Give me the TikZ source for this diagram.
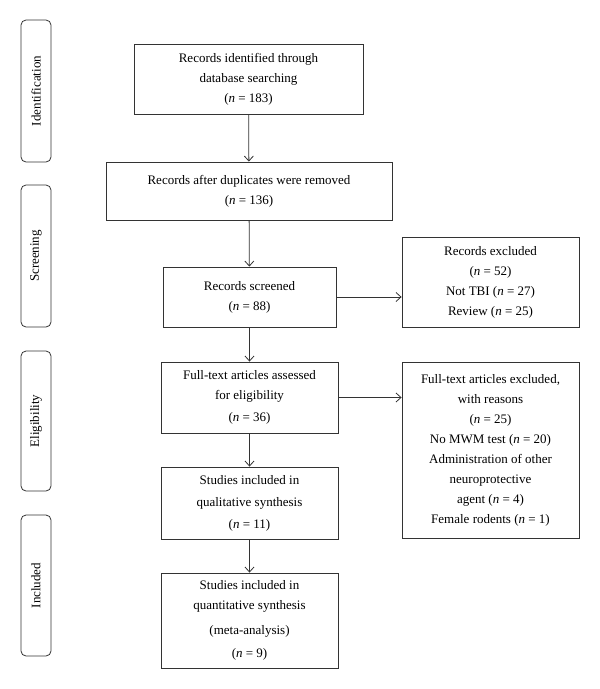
\documentclass[tikz,border=0pt]{standalone}
\usepackage{fontspec}
\setmainfont{Liberation Serif}
\usetikzlibrary{arrows.meta}
\tikzset{font=\fontsize{13}{20}\selectfont}
\tikzset{box/.style={draw=black!80, line width=0.8pt, align=center, inner sep=2pt}}
\tikzset{stage/.style={draw=black!80, line width=0.8pt, rounded corners=5pt, rotate=90, minimum height=30pt}}
\tikzset{flow/.style={draw=black!80, line width=0.8pt, -{Straight Barb[length=5pt,width=9pt]}}}
\newcommand{\nn}[1]{(\textit{n} = #1)}

\begin{document}
\begin{tikzpicture}[x=1pt,y=-1pt]
  \useasboundingbox (0,0) rectangle (600,689);

  % stages on the left
  \node[stage, minimum width=142pt] (ident) at (36,91) {Identification};
  \node[stage, minimum width=142pt] (screen) at (36,256) {Screening};
  \node[stage, minimum width=140pt] (elig) at (36,421) {Eligibility};
  \node[stage, minimum width=141pt] (incl) at (36,585.5) {Included};

  % main column
  \node[box, minimum width=229pt, minimum height=70pt] (found) at (248.5,79)
    {Records identified through\\database searching\\\nn{183}};
  \node[box, minimum width=286pt, minimum height=58pt] (nodup) at (249,191)
    {Records after duplicates were removed\\\nn{136}};
  \node[box, minimum width=173pt, minimum height=60pt] (scrn) at (249.5,297)
    {Records screened\\\nn{88}};
  \node[box, minimum width=177pt, minimum height=71pt] (full) at (249.5,397.5)
    {Full-text articles assessed\\for eligibility\\[2pt]\nn{36}};
  \node[box, minimum width=177pt, minimum height=72pt] (qual) at (249.5,503)
    {Studies included in\\[2pt]qualitative synthesis\\[2pt]\nn{11}};
  \node[box, minimum width=177pt, minimum height=95pt] (quant) at (249.5,620.5)
    {Studies included in\\quantitative synthesis\\[5pt](meta-analysis)\\[3pt]\nn{9}};

  % exclusions
  \node[box, minimum width=177pt, minimum height=90pt] (excl) at (490.5,282)
    {Records excluded\\\nn{52}\\Not TBI \nn{27}\\Review \nn{25}};
  \node[box, minimum width=177pt, minimum height=176pt] (fexcl) at (490.5,450)
    {Full-text articles excluded,\\with reasons\\\nn{25}\\No MWM test \nn{20}\\Administration of other\\neuroprotective\\agent \nn{4}\\Female rodents \nn{1}};

  \draw[flow] (found) -- (nodup);
  \draw[flow] (nodup) -- (scrn);
  \draw[flow] (scrn) -- (full);
  \draw[flow] (full) -- (qual);
  \draw[flow] (qual) -- (quant);
  \draw[flow] (scrn.east) -- (scrn.east -| excl.west);
  \draw[flow] (full.east) -- (full.east -| fexcl.west);
\end{tikzpicture}
\end{document}
